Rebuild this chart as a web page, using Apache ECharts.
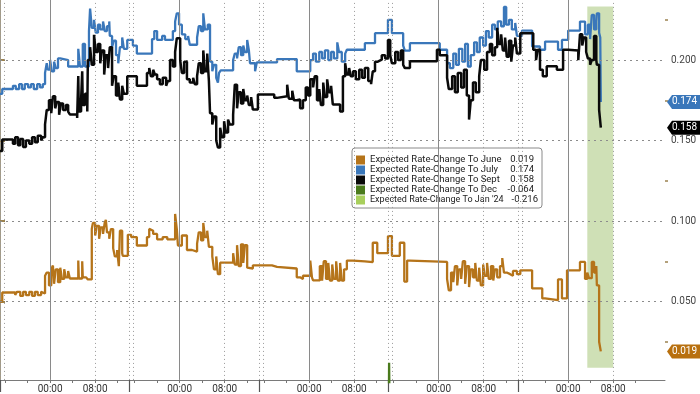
<!DOCTYPE html>
<html><head><meta charset="utf-8">
<script src="https://cdn.jsdelivr.net/npm/echarts@6/dist/echarts.min.js"></script>
<style>html,body{margin:0;padding:0;background:#fff}#c{width:700px;height:394px}</style>
</head><body><div id="c"></div>
<script>
// ---- data (x = trading hours since start of first session, y = expected rate change) ----
const SERIES_NAMES = ['Expected Rate-Change To June','Expected Rate-Change To July','Expected Rate-Change To Sept','Expected Rate-Change To Dec',"Expected Rate-Change To Jan '24"];
const SERIES_COLORS = ['#b5741a','#3a77ba','#0a0a0a','#4a7a1c','#a8cf5c'];
const LABEL_COLORS = ['#b8700f','#3a77ba','#000000'];

const JUNE = [[0,0.050],[0.4,0.0556],[2.7,0.054],[3.0,0.056],[3.6,0.0535],[4.1,0.056],[4.6,0.054],[5.2,0.056],[5.7,0.0535],[6.2,0.056],[6.7,0.054],[7.3,0.056],[7.6,0.055],[8.0,0.066],[8.3,0.068],[8.7,0.060],[9.1,0.070],[9.4,0.0724],[9.6,0.061],[9.9,0.070],[10.3,0.062],[10.7,0.071],[11.0,0.064],[11.4,0.070],[11.7,0.065],[12.1,0.069],[12.4,0.0643],[13.9,0.0755],[14.0,0.0643],[14.6,0.075],[14.7,0.065],[15.3,0.066],[15.6,0.0637],[16.3,0.095],[16.5,0.0988],[16.9,0.091],[17.2,0.097],[17.6,0.089],[17.9,0.096],[18.3,0.092],[18.6,0.099],[18.8,0.1007],[19.0,0.093],[19.4,0.089],[19.7,0.095],[20.1,0.083],[20.4,0.078],[20.8,0.082],[21.1,0.072],[21.3,0.094],[21.7,0.080],[21.8,0.0784],[22.7,0.0914],[23.3,0.090],[24.3,0.0848],[26.1,0.090],[26.5,0.0951],[26.8,0.094],[27.2,0.092],[27.9,0.0886],[28.9,0.090],[29.7,0.0886],[31.1,0.1044],[31.4,0.095],[31.6,0.0848],[32.3,0.091],[33.2,0.082],[34.1,0.081],[35.0,0.086],[35.3,0.093],[35.7,0.088],[36.1,0.0988],[36.4,0.090],[36.8,0.094],[37.1,0.084],[37.7,0.078],[38.0,0.070],[38.4,0.078],[38.7,0.067],[39.1,0.0741],[41.4,0.080],[41.7,0.073],[42.1,0.085],[42.4,0.072],[42.8,0.0855],[43.2,0.074],[43.5,0.085],[43.9,0.071],[44.0,0.0705],[44.9,0.0724],[48.3,0.0715],[49.2,0.0705],[52.7,0.065],[53.3,0.064],[53.8,0.066],[55.1,0.0754],[55.4,0.065],[55.6,0.0631],[56.8,0.072],[57.2,0.063],[57.5,0.075],[57.9,0.064],[58.3,0.074],[58.6,0.063],[59.0,0.073],[59.3,0.064],[59.7,0.075],[60.0,0.063],[60.4,0.074],[60.7,0.063],[61.1,0.070],[61.6,0.0754],[62.7,0.0749],[64.8,0.0745],[66.2,0.0865],[67.0,0.080],[68.9,0.0906],[69.6,0.0784],[71.0,0.0865],[71.8,0.0624],[72.3,0.0754],[72.8,0.0746],[79.4,0.064],[79.7,0.057],[80.1,0.068],[80.5,0.062],[80.8,0.072],[81.2,0.060],[81.5,0.070],[81.9,0.064],[82.2,0.075],[82.6,0.061],[82.9,0.072],[83.3,0.059],[83.6,0.070],[84.0,0.065],[84.4,0.074],[84.7,0.063],[85.1,0.071],[85.4,0.060],[85.8,0.073],[86.1,0.066],[86.5,0.074],[86.8,0.064],[87.2,0.072],[87.6,0.063],[87.9,0.070],[88.3,0.065],[88.8,0.072],[89.2,0.077],[89.5,0.068],[90.0,0.067],[90.6,0.066],[91.1,0.069],[91.8,0.067],[92.4,0.0694],[94.5,0.0581],[96.3,0.0519],[96.8,0.0508],[99.1,0.0637],[99.8,0.0519],[100.7,0.0694],[103.0,0.0746],[103.9,0.064],[104.3,0.068],[104.6,0.0645],[105.1,0.0746],[105.5,0.068],[105.9,0.072],[106.0,0.060],[106.4,0.025],[106.7,0.019]];

const JULY = [[0,0.179],[0.4,0.182],[2.3,0.184],[2.8,0.182],[3.4,0.185],[3.9,0.182],[4.4,0.185],[5.0,0.183],[5.5,0.185],[6.0,0.182],[6.6,0.185],[7.1,0.183],[7.6,0.185],[8.0,0.192],[8.3,0.198],[8.5,0.194],[8.9,0.200],[9.2,0.193],[9.6,0.199],[9.9,0.195],[10.3,0.201],[10.7,0.200],[12.1,0.196],[13.9,0.207],[14.2,0.196],[14.7,0.210],[15.1,0.196],[15.8,0.218],[16.0,0.232],[16.3,0.220],[16.7,0.225],[17.0,0.217],[17.4,0.222],[17.8,0.219],[18.3,0.224],[18.6,0.218],[19.0,0.221],[19.4,0.224],[19.5,0.215],[19.9,0.208],[20.2,0.212],[20.6,0.203],[21.0,0.198],[21.3,0.208],[21.7,0.214],[22.0,0.207],[22.6,0.2125],[23.6,0.209],[24.3,0.204],[27.0,0.213],[27.4,0.218],[27.9,0.2125],[28.8,0.215],[29.3,0.2125],[30.7,0.218],[31.1,0.224],[31.4,0.229],[31.8,0.222],[32.3,0.216],[32.9,0.213],[33.4,0.215],[33.7,0.2095],[35.0,0.214],[35.3,0.221],[35.7,0.218],[36.1,0.229],[36.4,0.219],[36.9,0.222],[37.3,0.199],[37.7,0.193],[38.0,0.197],[38.4,0.189],[38.7,0.186],[38.9,0.192],[39.2,0.1936],[41.4,0.200],[41.7,0.204],[42.1,0.201],[42.4,0.208],[42.8,0.203],[43.2,0.209],[43.5,0.205],[43.9,0.2125],[44.2,0.206],[44.4,0.198],[45.3,0.193],[45.6,0.1985],[49.2,0.2006],[52.7,0.193],[55.1,0.200],[55.6,0.204],[56.1,0.199],[56.7,0.205],[57.2,0.201],[57.7,0.206],[58.3,0.200],[58.8,0.205],[59.3,0.201],[59.9,0.211],[60.2,0.205],[60.7,0.199],[61.3,0.204],[61.6,0.2064],[64.8,0.2105],[66.6,0.2167],[68.9,0.225],[69.6,0.2167],[71.6,0.209],[71.9,0.2058],[72.8,0.2105],[78.1,0.2064],[79.4,0.198],[79.9,0.195],[80.5,0.204],[81.0,0.197],[81.5,0.207],[82.1,0.199],[82.6,0.210],[83.1,0.196],[83.6,0.203],[84.2,0.211],[84.7,0.205],[85.2,0.214],[85.8,0.209],[86.3,0.218],[86.8,0.214],[87.4,0.222],[87.9,0.219],[88.4,0.224],[89.0,0.221],[89.5,0.233],[89.9,0.222],[90.4,0.225],[90.9,0.219],[91.5,0.223],[91.8,0.215],[92.7,0.2183],[94.5,0.2084],[95.9,0.2064],[96.8,0.2115],[99.1,0.2064],[99.8,0.2125],[100.9,0.2183],[103.0,0.2239],[103.9,0.216],[104.4,0.222],[104.8,0.213],[105.1,0.228],[105.5,0.219],[105.9,0.224],[106.0,0.229],[106.4,0.217],[106.6,0.214],[106.7,0.174]];

const SEPT = [[0,0.1435],[0.4,0.1507],[2.3,0.148],[2.7,0.152],[3.2,0.147],[3.6,0.151],[4.1,0.146],[4.6,0.150],[5.2,0.148],[5.7,0.152],[6.2,0.149],[6.7,0.153],[7.3,0.150],[7.6,0.152],[8.0,0.160],[8.3,0.169],[8.7,0.175],[9.1,0.167],[9.4,0.1775],[9.8,0.170],[10.1,0.174],[10.5,0.166],[10.8,0.173],[11.2,0.169],[11.7,0.172],[12.1,0.168],[12.4,0.1662],[13.7,0.164],[13.9,0.190],[14.0,0.168],[14.4,0.175],[14.6,0.193],[14.7,0.172],[15.1,0.179],[15.5,0.168],[15.6,0.200],[16.0,0.208],[16.3,0.197],[16.7,0.2157],[17.0,0.205],[17.4,0.210],[17.8,0.198],[18.1,0.206],[18.5,0.191],[18.8,0.203],[19.2,0.195],[19.5,0.208],[19.9,0.184],[20.2,0.190],[20.6,0.178],[21.0,0.186],[21.3,0.1755],[21.7,0.184],[22.0,0.179],[22.6,0.1899],[23.3,0.190],[24.3,0.1841],[26.1,0.192],[26.5,0.195],[26.8,0.190],[27.2,0.194],[27.5,0.191],[27.9,0.188],[28.4,0.185],[28.9,0.189],[29.5,0.184],[29.8,0.187],[30.2,0.200],[30.7,0.196],[31.1,0.205],[31.4,0.2136],[32.0,0.200],[32.3,0.192],[32.7,0.199],[33.2,0.188],[33.7,0.186],[34.3,0.189],[34.6,0.185],[35.0,0.190],[35.3,0.198],[35.7,0.192],[36.1,0.206],[36.4,0.193],[36.8,0.204],[37.1,0.187],[37.3,0.167],[37.7,0.160],[38.0,0.165],[38.4,0.150],[38.7,0.1457],[39.1,0.158],[39.4,0.152],[39.8,0.162],[40.1,0.155],[40.5,0.163],[40.8,0.160],[41.4,0.166],[41.7,0.1847],[42.1,0.170],[42.4,0.180],[42.8,0.173],[43.2,0.182],[43.5,0.175],[43.9,0.178],[44.2,0.172],[44.6,0.177],[44.9,0.1693],[45.8,0.1786],[48.7,0.1765],[49.2,0.1775],[51.0,0.1847],[51.3,0.176],[51.9,0.181],[52.2,0.175],[52.7,0.1755],[53.3,0.170],[53.8,0.175],[54.3,0.183],[54.7,0.178],[55.1,0.188],[55.6,0.183],[55.9,0.190],[56.3,0.175],[56.7,0.182],[57.0,0.172],[57.4,0.186],[57.7,0.177],[58.1,0.188],[58.4,0.180],[58.8,0.184],[59.1,0.1724],[60.4,0.168],[60.9,0.190],[61.3,0.198],[61.6,0.191],[62.0,0.195],[62.3,0.190],[62.7,0.193],[63.2,0.188],[63.8,0.194],[64.3,0.189],[64.8,0.195],[65.4,0.187],[65.9,0.185],[66.2,0.193],[66.6,0.199],[67.1,0.2002],[67.8,0.203],[68.4,0.201],[68.9,0.2125],[69.3,0.203],[69.6,0.198],[70.2,0.205],[70.7,0.200],[71.2,0.206],[71.6,0.197],[71.9,0.195],[72.8,0.1993],[77.6,0.2064],[78.1,0.203],[79.4,0.189],[79.7,0.182],[80.3,0.190],[80.8,0.180],[81.3,0.192],[81.9,0.183],[82.4,0.194],[82.9,0.178],[83.3,0.163],[83.6,0.175],[84.0,0.186],[84.5,0.180],[85.1,0.190],[85.4,0.200],[86.0,0.194],[86.5,0.205],[87.0,0.210],[87.4,0.203],[87.9,0.208],[88.3,0.220],[88.6,0.210],[89.0,0.216],[89.3,0.206],[89.7,0.214],[90.0,0.202],[90.4,0.212],[90.8,0.199],[91.1,0.209],[91.5,0.214],[91.8,0.204],[92.4,0.2167],[94.7,0.2064],[95.2,0.200],[95.5,0.2064],[95.9,0.194],[96.4,0.190],[97.1,0.1961],[98.9,0.194],[100.0,0.2064],[100.9,0.2059],[102.7,0.200],[103.0,0.216],[103.4,0.209],[103.7,0.214],[104.1,0.205],[104.4,0.201],[104.8,0.197],[105.1,0.200],[105.5,0.215],[105.9,0.200],[106.0,0.197],[106.4,0.169],[106.7,0.158]];

const DEC = [[0,-0.052],[23,-0.058],[46,-0.047],[69,-0.050],[69.1,0.012],[69.3,-0.049],[92,-0.043],[106.4,-0.055],[106.7,-0.064]];
const JAN24 = [[0,-0.190],[23,-0.205],[46,-0.185],[69,-0.200],[92,-0.195],[106.4,-0.200],[106.7,-0.216]];

// axis / session structure
const SESSION_STARTS = [0, 23, 46, 69, 92];
const MIDNIGHT_OFFSET = 8.9;          // hours from session start to 00:00
const LABEL_HOURS = [0, 8];           // tick labels 00:00, 08:00
const MINOR_TICK_HOURS = [-8, -4, 0, 4, 8, 12];
const X_MAX = 118.1;
const Y_MIN = 0, Y_MAX = 0.2373, Y_STEP = 0.05;
const Y_LABELS = [0.05, 0.10, 0.15, 0.20];
const Y_MINOR = [0.025, 0.075, 0.125, 0.175, 0.225];
const Y_AXIS_BASE = 0.0013;
const SHADE = { from: 104.3, to: 108.9, low: 0.0088, high: 0.2333 };

// ---- build ----
const ALL = [JUNE, JULY, SEPT, DEC, JAN24];
const lastVal = a => a[a.length - 1][1];
const fmtHour = h => String(h).padStart(2, '0') + ':00';

const labelVals = [], labelText = {};
SESSION_STARTS.forEach(s => LABEL_HOURS.forEach(h => {
  const v = +(s + MIDNIGHT_OFFSET + h).toFixed(2); labelVals.push(v); labelText[v] = fmtHour(h);
}));
const minorVals = [];
SESSION_STARTS.forEach(s => MINOR_TICK_HOURS.forEach(h => minorVals.push(+(s + MIDNIGHT_OFFSET + h).toFixed(2))));

const dotted = { color: '#9a9a9a', type: [1, 3], width: 1 };
const vlines = [];
SESSION_STARTS.forEach(s => {
  vlines.push([{ coord: [s + MIDNIGHT_OFFSET, Y_AXIS_BASE], lineStyle: { color: '#8a8a8a', type: 'solid', width: 1 } }, { coord: [s + MIDNIGHT_OFFSET, Y_MAX] }]);
  vlines.push([{ coord: [s + MIDNIGHT_OFFSET + 8, Y_AXIS_BASE], lineStyle: dotted }, { coord: [s + MIDNIGHT_OFFSET + 8, Y_MAX] }]);
  vlines.push([{ coord: [s, Y_AXIS_BASE], lineStyle: dotted }, { coord: [s, Y_MAX] }]);
  vlines.push([{ coord: [s + 0.7, Y_AXIS_BASE], lineStyle: dotted }, { coord: [s + 0.7, Y_MAX] }]);
});
const hlines = Y_LABELS.map(v => [{ coord: [0, v], lineStyle: { color: '#8c8c8c', type: [2, 4], width: 1.2 } }, { coord: [X_MAX, v] }]);

const tagPath = 'path://M0,7 L5,0 L33,0 L33,14 L5,14 Z';
const endTags = [0, 1, 2].map(i => ({
  coord: [X_MAX, lastVal(ALL[i])],
  symbol: tagPath, symbolSize: [33, 14], symbolOffset: [18.5, 0],
  itemStyle: { color: LABEL_COLORS[i] },
  label: { show: true, position: 'inside', offset: [1, 0], formatter: lastVal(ALL[i]).toFixed(3), color: '#fff', fontSize: 10, fontFamily: 'Roboto' }
}));

const legendVals = {};
SERIES_NAMES.forEach((n, i) => legendVals[n] = lastVal(ALL[i]).toFixed(3));
const LONG_NAME = SERIES_NAMES[4];

const series = SERIES_NAMES.map((n, i) => ({
  name: n, type: 'line', step: 'end', data: ALL[i], showSymbol: false, symbol: 'none',
  color: SERIES_COLORS[i], lineStyle: { width: i === 2 ? 2.5 : 2.3, color: SERIES_COLORS[i] },
  xAxisIndex: 0, yAxisIndex: 0, z: 3 + i, animation: false, silent: true
}));
series.unshift({ type: 'line', data: [], xAxisIndex: 0, yAxisIndex: 0, z: 1, silent: true,
  markLine: { silent: true, symbol: 'none', label: { show: false }, animation: false, data: vlines } });
series.unshift({ type: 'line', data: [], xAxisIndex: 0, yAxisIndex: 0, z: 1, silent: true,
  markLine: { silent: true, symbol: 'none', label: { show: false }, animation: false,
    lineStyle: { color: '#8c8c8c', type: [2, 4], width: 1.2 }, data: hlines } });
series.push({ type: 'line', data: [], xAxisIndex: 0, yAxisIndex: 0, z: 20, silent: true,
  markArea: { silent: true, animation: false, itemStyle: { color: 'rgba(140,182,82,0.42)' },
    data: [[{ coord: [SHADE.from, SHADE.low] }, { coord: [SHADE.to, SHADE.high] }]] } });
series.push({ type: 'line', data: [], xAxisIndex: 0, yAxisIndex: 0, z: 30, silent: true,
  markPoint: { silent: true, animation: false, data: endTags } });

const chart = echarts.init(document.getElementById('c'));
chart.setOption({
  animation: false,
  backgroundColor: '#fff',
  textStyle: { fontFamily: 'Roboto' },
  grid: { left: 0, right: 35, top: 0, bottom: 10.1 },
  xAxis: [{
    type: 'value', min: 0, max: X_MAX, offset: -2,
    axisLine: { show: true, lineStyle: { color: '#7a7a7a', width: 1 } },
    axisTick: { show: true, customValues: minorVals, length: 3, lineStyle: { color: '#777' } },
    axisLabel: { customValues: labelVals, formatter: v => labelText[+v.toFixed(2)] || '', fontSize: 10, color: '#333', margin: 4, fontFamily: 'Roboto' },
    splitLine: { show: false }
  }, {
    type: 'value', min: 0, max: X_MAX, offset: -2, position: 'bottom',
    axisLine: { show: false },
    axisTick: { show: true, customValues: SESSION_STARTS, length: 12, lineStyle: { color: '#555', width: 1.2 } },
    axisLabel: { show: false }, splitLine: { show: false }
  }],
  yAxis: [{
    type: 'value', position: 'right', min: Y_MIN, max: Y_MAX, interval: Y_STEP,
    axisLine: { show: true, lineStyle: { color: '#a39a85', width: 1 } },
    axisTick: { show: true, customValues: Y_LABELS, length: 5, lineStyle: { color: '#9c8350', width: 2 } },
    axisLabel: { customValues: Y_LABELS, formatter: v => v.toFixed(3), fontSize: 10, color: '#444', margin: 6, fontFamily: 'Roboto' },
    splitLine: { show: true, showMinLine: false, showMaxLine: false, lineStyle: { color: '#8c8c8c', type: [2, 4], width: 1.2 } }
  }, {
    type: 'value', position: 'left', offset: -665, min: Y_MIN, max: Y_MAX,
    axisLine: { show: false },
    axisTick: { show: true, inside: true, customValues: Y_MINOR, length: 3, lineStyle: { color: '#9c8350', width: 1.5 } },
    axisLabel: { show: false }, splitLine: { show: false }
  }],
  legend: {
    data: SERIES_NAMES, orient: 'vertical', left: 352, top: 148, icon: 'rect',
    itemWidth: 9, itemHeight: 9, itemGap: 0, selectedMode: false,
    padding: [7, 4, 3, 4], backgroundColor: '#fff', borderColor: '#8a8a8a', borderWidth: 1, borderRadius: 3,
    formatter: n => n === LONG_NAME ? `{n2|${n}}{v2|${legendVals[n]}}` : `{n|${n}}{v|${legendVals[n]}}`,
    textStyle: { color: '#222', fontSize: 9.5, fontFamily: 'Roboto',
      rich: { n: { width: 132, fontSize: 9.5, lineHeight: 11, color: '#222', fontFamily: 'Roboto' },
              v: { width: 32, align: 'right', fontSize: 9.5, lineHeight: 11, color: '#222', fontFamily: 'Roboto' },
              n2: { width: 132, fontSize: 9, lineHeight: 11, color: '#222', fontFamily: 'Roboto' },
              v2: { width: 36, align: 'right', fontSize: 9.5, lineHeight: 11, color: '#222', fontFamily: 'Roboto' } } }
  },
  series
});
</script></body></html>
